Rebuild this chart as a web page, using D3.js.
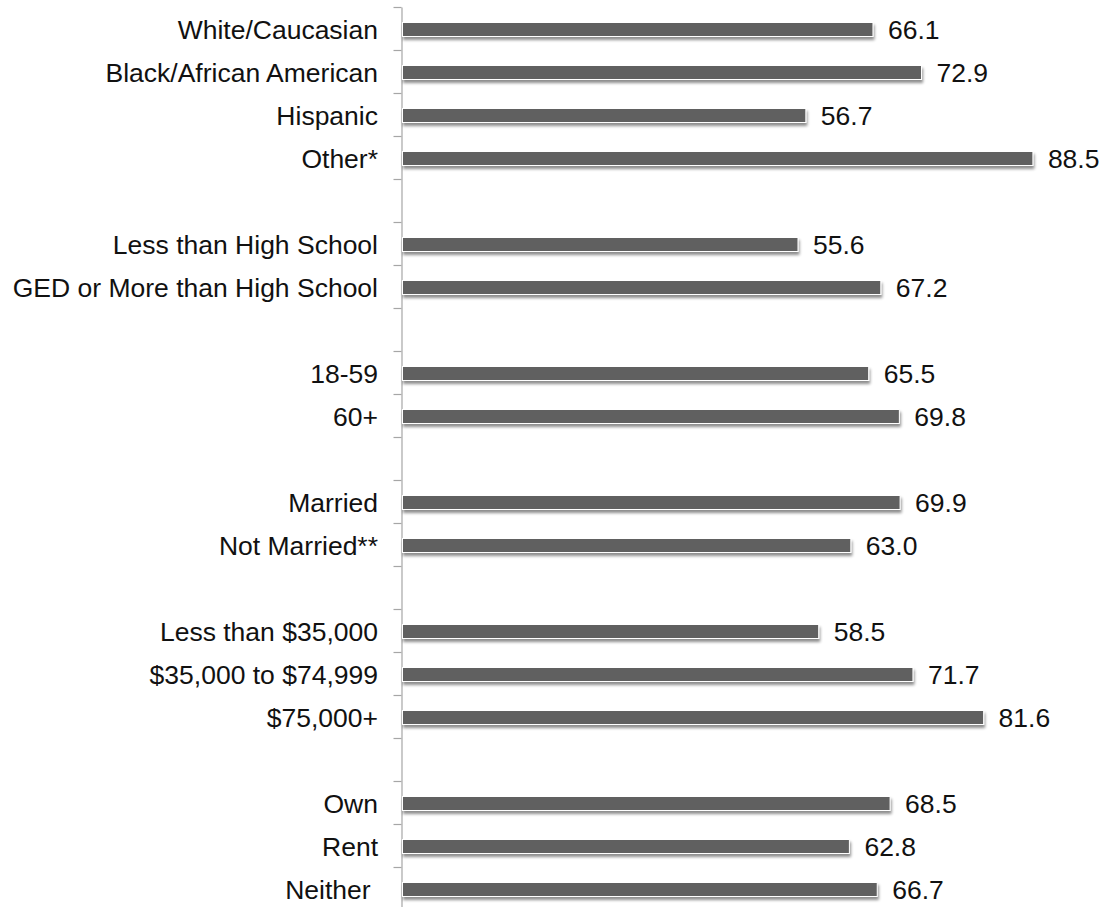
<!DOCTYPE html>
<html><head><meta charset="utf-8">
<script src="https://cdn.jsdelivr.net/npm/d3@7"></script>
<style>
html,body{margin:0;padding:0;background:#fff;}
text{font-family:"Liberation Sans",Arial,sans-serif;}
</style></head>
<body><svg id="c" width="1107" height="907"></svg>
<script>
const categories = ["White/Caucasian","Black/African American","Hispanic","Other*","",
  "Less than High School","GED or More than High School","",
  "18-59","60+","",
  "Married","Not Married**","",
  "Less than $35,000","$35,000 to $74,999","$75,000+","",
  "Own","Rent","Neither "];
const values = [66.1,72.9,56.7,88.5,null,55.6,67.2,null,65.5,69.8,null,69.9,63.0,null,58.5,71.7,81.6,null,68.5,62.8,66.7];

const svg = d3.select("#c");
const x = d3.scaleLinear().domain([0,100]).range([401,1115]);
const slots = d3.range(categories.length);
const y = d3.scaleBand().domain(slots).range([7, 7 + 43*categories.length]).paddingInner(0).paddingOuter(0);
const yTick = d3.scaleLinear().domain([0, categories.length]).range([7, 7 + 43*categories.length]);

const defs = svg.append("defs");
const f = defs.append("filter").attr("id","sh").attr("x","-5%").attr("y","-50%").attr("width","110%").attr("height","250%");
f.append("feGaussianBlur").attr("in","SourceAlpha").attr("stdDeviation",1.6).attr("result","b");
f.append("feOffset").attr("in","b").attr("dx",1).attr("dy",3).attr("result","o");
f.append("feComponentTransfer").attr("in","o").attr("result","o2").append("feFuncA").attr("type","linear").attr("slope",0.45);
const m = f.append("feMerge");
m.append("feMergeNode").attr("in","o2");
m.append("feMergeNode").attr("in","SourceGraphic");

// axis
const ax = svg.append("g").attr("transform","translate(401.5,0)")
  .call(d3.axisLeft(yTick).tickValues(d3.range(categories.length+1)).tickFormat("").tickSize(8).tickSizeOuter(0));
ax.selectAll("path,line").attr("stroke","#a6a6a6").attr("stroke-width",1.2);

const data = categories.map((c,i)=>({c, v: values[i], i}));
const bh = 14;
const bars = data.filter(d=>d.v!=null);
svg.append("g").selectAll("rect").data(bars).join("rect")
  .attr("x", x(0)+1.5)
  .attr("y", d=>y(d.i)+y.bandwidth()/2 - bh/2 + 1)
  .attr("width", d=>x(d.v)-x(0)-1.5)
  .attr("height", bh)
  .attr("fill","#606060")
  .attr("stroke","#ffffff").attr("stroke-width",1)
  .attr("filter","url(#sh)");

svg.append("g").selectAll("text").data(bars).join("text")
  .attr("x", d=>x(d.v)+15)
  .attr("y", d=>y(d.i)+y.bandwidth()/2 + 1.5)
  .attr("dy","0.35em")
  .attr("font-size",26.5)
  .attr("fill","#111")
  .text(d=>d.v.toFixed(1));

svg.append("g").selectAll("text").data(data.filter(d=>d.c)).join("text")
  .attr("x", 378)
  .attr("y", d=>y(d.i)+y.bandwidth()/2 + 1.5)
  .attr("dy","0.35em")
  .attr("text-anchor","end")
  .attr("font-size",26.5)
  .attr("fill","#111")
  .style("white-space","pre")
  .text(d=>d.c);
</script></body></html>
